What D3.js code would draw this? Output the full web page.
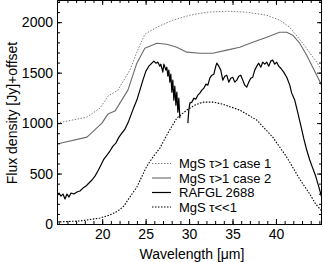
<!DOCTYPE html>
<html lang="en">
<head>
    <meta charset="UTF-8">
    <title>MgS spectra</title>
    <script src="https://cdn.jsdelivr.net/npm/d3@7/dist/d3.min.js"></script>
    <style>
        body { margin: 0; background: #fff; }
        text { font-family: "Liberation Sans", Arial, sans-serif; font-size: 14px; fill: #000; }
        .legend text { font-size: 13px; }
    </style>
</head>
<body>

<script type="text/javascript">
    // canvas size
    var width = 323;
    var height = 262;

    // series data: [wavelength um, flux Jy + offset]
    var case1 = [[14.80, 1000], [18.25, 1059], [19.74, 1148], [20.66, 1267], [21.81, 1327], [23.19, 1525],
        [23.99, 1703], [24.91, 1881], [26.29, 1950], [28.13, 2020], [30.09, 2069], [32.04, 2099],
        [34.34, 2109], [36.64, 2099], [38.94, 2069], [40.43, 2020], [41.59, 1950], [43.08, 1792],
        [44.69, 1604], [45.26, 1525]];

    var case2 = [[14.80, 792], [18.25, 861], [19.97, 1000], [20.66, 1089], [21.47, 1119], [22.04, 1198],
        [22.96, 1327], [23.99, 1594], [24.91, 1742], [26.29, 1792], [27.44, 1782], [28.59, 1752],
        [29.74, 1703], [31.24, 1693], [32.73, 1693], [34.34, 1723], [35.83, 1752], [37.33, 1802],
        [38.94, 1851], [40.43, 1901], [41.24, 1901], [41.93, 1871], [42.73, 1792], [43.54, 1673],
        [44.69, 1475], [45.26, 1376]];

    // observed spectrum, null = gap between detector bands
    var rafgl = [[14.80, 277], [15.03, 307], [15.26, 277], [15.49, 297], [15.72, 248], [15.95, 297],
        [16.18, 267], [16.41, 307], [16.75, 297], [17.10, 317], [17.44, 327], [17.79, 356],
        [18.13, 376], [18.48, 406], [18.82, 436], [19.17, 475], [19.51, 525], [19.86, 584],
        [20.20, 644], [20.55, 683], [20.89, 723], [21.24, 772], [21.58, 802], [21.93, 861],
        [22.27, 901], [22.62, 941], [22.96, 1000], [23.31, 1079], [23.65, 1158], [23.99, 1228],
        [24.34, 1327], [24.69, 1426], [25.03, 1515], [25.37, 1564], [25.72, 1594], [25.95, 1614],
        [26.18, 1594], [26.41, 1604], [26.64, 1564], [26.75, 1584], [26.98, 1505], [27.10, 1584],
        [27.33, 1525], [27.44, 1554], [27.56, 1465], [27.67, 1525], [27.79, 1406], [27.90, 1485],
        [28.02, 1307], [28.13, 1426], [28.25, 1228], [28.36, 1366], [28.48, 1178], [28.59, 1307],
        [28.71, 1109], [28.82, 1247], [28.94, 1049], null,
        [29.86, 1000], [29.97, 1129], [30.09, 1198], [30.32, 1208], [30.55, 1247], [30.78, 1238],
        [31.01, 1277], [31.24, 1297], [31.47, 1327], [31.70, 1346], [31.93, 1386], [32.16, 1376],
        [32.39, 1445], [32.62, 1475], [32.85, 1485], [33.08, 1564], [33.19, 1594], [33.42, 1564],
        [33.65, 1525], [33.88, 1426], [34.11, 1465], [34.34, 1475], [34.57, 1406], [34.80, 1445],
        [35.03, 1455], [35.26, 1406], [35.49, 1426], [35.72, 1465], [35.95, 1475], [36.18, 1426],
        [36.41, 1376], [36.64, 1356], [36.87, 1406], [37.10, 1445], [37.33, 1455], [37.56, 1525],
        [37.79, 1564], [38.02, 1594], [38.25, 1554], [38.48, 1604], [38.71, 1584], [38.94, 1604],
        [39.17, 1564], [39.40, 1614], [39.63, 1624], [39.86, 1584], [40.09, 1604], [40.32, 1564],
        [40.55, 1544], [40.89, 1505], [41.24, 1455], [41.59, 1376], [41.81, 1297], [42.16, 1228],
        [42.50, 1109], [42.85, 980], [43.19, 851], [43.54, 733], [43.89, 634], [44.23, 554],
        [44.57, 475], [44.91, 376], [45.26, 267]];

    var thin = [[14.80, 20], [17.44, 30], [19.74, 59], [20.89, 89], [21.81, 129], [22.50, 178],
        [23.19, 267], [23.99, 366], [25.14, 574], [25.83, 663], [26.64, 752], [27.56, 901],
        [28.59, 1049], [29.74, 1129], [30.66, 1178], [31.58, 1208], [32.73, 1208], [33.88, 1188],
        [35.83, 1129], [37.79, 1030], [39.63, 861], [41.24, 663], [42.73, 445], [43.89, 297],
        [44.57, 198], [45.26, 129]];

    // tick values
    var xMajor = [20, 25, 30, 35, 40];
    var xMinor = d3.range(15, 46, 1);
    var yMajor = [0, 500, 1000, 1500, 2000];
    var yMinor = d3.range(0, 2201, 100);

    var legendLabels = ['MgS \u03c4>1 case 1', 'MgS \u03c4>1 case 2', 'RAFGL 2688', 'MgS \u03c4<<1'];

    // plot box
    var box = {left: 57, right: 322, top: 0, bottom: 224};

    var svg = d3.select('body')
            .append('svg')
            .attr('width', width)
            .attr('height', height);

    var xScale = d3.scaleLinear()
            .domain([14.8, 45.3])
            .range([box.left, box.right]);
    var yScale = d3.scaleLinear()
            .domain([0, 2220])
            .range([box.bottom, box.top]);

    svg.append('clipPath')
            .attr('id', 'clip')
            .append('rect')
            .attr('x', box.left)
            .attr('y', box.top)
            .attr('width', box.right - box.left)
            .attr('height', box.bottom - box.top);

    // curves
    var line = d3.line()
            .defined(function (d) { return d !== null; })
            .x(function (d) { return xScale(d[0]); })
            .y(function (d) { return yScale(d[1]); });

    var series = [
        {data: case1, color: '#808080', width: 1, dash: '1.5,1.5'},
        {data: case2, color: '#6a6a6a', width: 1.1, dash: null},
        {data: rafgl, color: '#000', width: 1.2, dash: null},
        {data: thin, color: '#000', width: 1.1, dash: '1.5,1.5'}
    ];

    svg.append('g')
            .attr('clip-path', 'url(#clip)')
            .selectAll('path')
            .data(series)
            .enter()
            .append('path')
            .attr('d', function (s) { return line(s.data); })
            .attr('fill', 'none')
            .attr('stroke', function (s) { return s.color; })
            .attr('stroke-width', function (s) { return s.width; })
            .attr('stroke-dasharray', function (s) { return s.dash; })
            .attr('stroke-linejoin', 'round');

    // axes, ticks pointing inward like IDL
    function drawAxis(axis, tx, ty) {
        var g = svg.append('g')
                .attr('transform', 'translate(' + tx + ',' + ty + ')')
                .call(axis);
        g.select('.domain').remove();
        g.attr('font-family', null).attr('font-size', null);
        return g;
    }

    var fmt = d3.format('d');
    drawAxis(d3.axisBottom(xScale).tickValues(xMajor).tickSize(-5).tickPadding(5).tickFormat(fmt), 0, box.bottom);
    drawAxis(d3.axisBottom(xScale).tickValues(xMinor).tickSize(-3).tickFormat(''), 0, box.bottom);
    drawAxis(d3.axisTop(xScale).tickValues(xMajor).tickSize(-5).tickFormat(''), 0, box.top);
    drawAxis(d3.axisTop(xScale).tickValues(xMinor).tickSize(-3).tickFormat(''), 0, box.top);
    drawAxis(d3.axisLeft(yScale).tickValues(yMajor).tickSize(-5).tickPadding(4).tickFormat(fmt), box.left, 0);
    drawAxis(d3.axisLeft(yScale).tickValues(yMinor).tickSize(-3).tickFormat(''), box.left, 0);
    drawAxis(d3.axisRight(yScale).tickValues(yMajor).tickSize(-5).tickFormat(''), box.right, 0);
    drawAxis(d3.axisRight(yScale).tickValues(yMinor).tickSize(-3).tickFormat(''), box.right, 0);

    // frame
    svg.append('rect')
            .attr('x', box.left + 0.5)
            .attr('y', box.top + 0.5)
            .attr('width', box.right - box.left - 1)
            .attr('height', box.bottom - box.top)
            .attr('fill', 'none')
            .attr('stroke', '#000');

    // axis titles
    svg.append('text')
            .attr('x', 192)
            .attr('y', 259)
            .attr('text-anchor', 'middle')
            .text('Wavelength [\u03bcm]');
    svg.append('text')
            .attr('transform', 'translate(17,113) rotate(-90)')
            .attr('text-anchor', 'middle')
            .text('Flux density [Jy]+offset');

    // legend
    var legend = svg.selectAll('.legend')
            .data(legendLabels)
            .enter()
            .append('g')
            .attr('class', 'legend')
            .attr('transform', function (d, i) {
                return 'translate(152,' + (163.5 + i * 14.5) + ')';
            });
    legend.append('line')
            .attr('x1', 0)
            .attr('x2', 19)
            .attr('stroke', function (d, i) { return series[i].color; })
            .attr('stroke-width', function (d, i) { return series[i].width; })
            .attr('stroke-dasharray', function (d, i) { return series[i].dash; });
    legend.append('text')
            .attr('x', 27)
            .attr('dy', '0.36em')
            .text(function (d) { return d; });
</script>
</body>
</html>
